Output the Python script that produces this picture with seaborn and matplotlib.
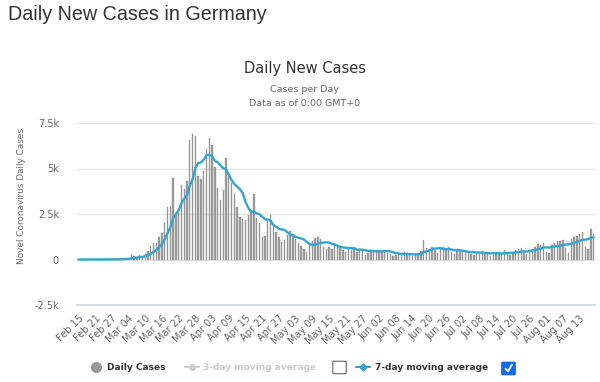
import numpy as np
import pandas as pd
import matplotlib
matplotlib.use("Agg")
import matplotlib.pyplot as plt
import seaborn as sns
from matplotlib.lines import Line2D
from matplotlib.patches import FancyBboxPatch

# ---------------- data ----------------
start_date = "2020-02-15"
cases = [
    0, 0, 0, 0, 0, 0, 0, 0, 0, 0,
    2, 9, 19, 2, 31, 51, 29, 37, 66,
    220, 188, 129, 241, 136, 281, 451,
    740, 930, 910, 1210, 1480, 2000,
    2900, 2950, 4470, 2450, 2700, 4100, 3850, 4300,
    6550, 6870, 6800,
    4600, 4400, 4850, 6070, 6680, 6300, 5100, 3950, 3250, 3800,
    5550, 4700, 4200, 3600, 2900, 2330, 2230, 2170, 2450, 2720, 3600,
    2260, 1990, 1250, 1300, 2170, 2450, 1900, 1530, 1250, 975,
    1070, 1340, 1560, 1420, 1100, 880, 750, 600, 420, 790,
    1040, 1200, 1230, 1100, 700, 560, 700, 550, 880, 790,
    660, 515, 420, 600, 515, 700, 420, 600, 515, 240,
    330, 515, 515, 500, 515, 480, 420,
    350, 300, 200, 250, 300, 320, 400, 300, 250, 180,
    230, 340, 450, 1070, 620, 580, 660, 500, 380, 620,
    700, 520, 660, 420, 300, 450, 500, 480, 430, 380,
    300, 220, 400, 420, 440, 380, 300, 200, 270, 400,
    420, 350, 500, 300, 250, 380, 500, 550, 620, 480,
    300, 450, 600, 680, 850, 800, 900, 400, 350, 820,
    880, 1000, 1020, 1050, 650, 380, 1100, 1250, 1300, 1400,
    1500, 700, 550, 1650, 1400,
]
dates = pd.date_range(start_date, periods=len(cases))
tick_step = 6
y_ticks = [-2500, 0, 2500, 5000, 7500]
y_tick_labels = ["-2.5k", "0", "2.5k", "5k", "7.5k"]

df = pd.DataFrame({"day": np.arange(len(cases)), "cases": cases})
df["ma7"] = df["cases"].rolling(7, min_periods=1).mean()

# ---------------- figure ----------------
sns.set_theme(style="white")
plt.rcParams["font.family"] = ["DejaVu Sans"]

W, H = 600, 382
fig = plt.figure(figsize=(W / 100, H / 100), dpi=100)
fig.patch.set_facecolor("white")

def fx(px):
    return px / W

def fy(py):
    return 1 - py / H

ax = fig.add_axes([fx(77), fy(305), 518 / W, 182 / H])

sns.barplot(data=df, x="day", y="cases", native_scale=True, color="#9c9c9c",
            saturation=1, edgecolor="#808080", linewidth=0.2, width=0.5,
            errorbar=None, ax=ax, zorder=2)
sns.lineplot(data=df, x="day", y="ma7", color="#34a4d2", linewidth=1.7,
             ax=ax, zorder=3)

ax.set_xlim(-0.5, len(cases) - 0.5)
ax.set_ylim(-2500, 7500)
ax.set_yticks(y_ticks)
ax.set_yticklabels(y_tick_labels)
tick_pos = df["day"].values[::tick_step]
ax.set_xticks(tick_pos)
ax.set_xticklabels([d.strftime("%b %d") for d in dates[::tick_step]],
                   rotation=45, ha="right", va="top", rotation_mode="anchor")
ax.set_xlabel("")
ax.set_ylabel("")
ax.yaxis.grid(True, color="#e6e6e6", linewidth=1)
ax.xaxis.grid(False)
ax.set_axisbelow(True)
for s in ["left", "right", "top"]:
    ax.spines[s].set_visible(False)
ax.spines["bottom"].set_color("#ccd6eb")
ax.spines["bottom"].set_linewidth(1.2)
ax.tick_params(axis="both", length=0, colors="#666666", labelsize=7)
ax.tick_params(axis="y", pad=13)
ax.tick_params(axis="x", pad=6)

# ---------------- texts ----------------
fig.text(fx(8), fy(15), "Daily New Cases in Germany", fontsize=14.2,
         color="#333333", ha="left", va="center", family="Liberation Sans")
fig.text(fx(305), fy(68), "Daily New Cases", fontsize=10.5, color="#333333",
         ha="center", va="center")
fig.text(fx(305), fy(90), "Cases per Day", fontsize=6.8, color="#666666",
         ha="center", va="center")
fig.text(fx(305), fy(103), "Data as of 0:00 GMT+0", fontsize=6.8,
         color="#666666", ha="center", va="center")
fig.text(fx(22), fy(196), "Novel Coronavirus Daily Cases", fontsize=6.4,
         color="#666666", ha="center", va="center", rotation=90)

# ---------------- legend ----------------
ly = fy(367)
fig.add_artist(Line2D([fx(96)], [ly], marker="o", markersize=7,
                      color="#999999", transform=fig.transFigure))
fig.text(fx(107), ly, "Daily Cases", fontsize=6.5, fontweight="bold",
         color="#333333", ha="left", va="center")
fig.add_artist(Line2D([fx(185), fx(199)], [ly, ly], color="#cccccc", lw=1.5,
                      transform=fig.transFigure))
fig.add_artist(Line2D([fx(192)], [ly], marker="o", markersize=4,
                      color="#cccccc", transform=fig.transFigure))
fig.text(fx(203), ly, "3-day moving average", fontsize=6.5, fontweight="bold",
         color="#cccccc", ha="left", va="center")
fig.add_artist(FancyBboxPatch((fx(334), fy(373)), 11 / W, 11 / H,
                              boxstyle="round,pad=0.002", fc="white",
                              ec="#666666", lw=0.8, transform=fig.transFigure))
fig.add_artist(Line2D([fx(356), fx(370)], [ly, ly], color="#34a4d2", lw=1.5,
                      transform=fig.transFigure))
fig.add_artist(Line2D([fx(363)], [ly], marker="D", markersize=3.5,
                      color="#34a4d2", transform=fig.transFigure))
fig.text(fx(375), ly, "7-day moving average", fontsize=6.5, fontweight="bold",
         color="#333333", ha="left", va="center")
fig.add_artist(FancyBboxPatch((fx(503), fy(374)), 11 / W, 11 / H,
                              boxstyle="round,pad=0.002", fc="#0b6cf5",
                              ec="#0b5fd6", lw=0.8, transform=fig.transFigure))
fig.add_artist(Line2D([fx(505.5), fx(508), fx(512)], [fy(368.5), fy(371.5), fy(364.5)],
                      color="white", lw=1.3, transform=fig.transFigure))

fig.savefig("out.png", dpi=100, facecolor="white")
